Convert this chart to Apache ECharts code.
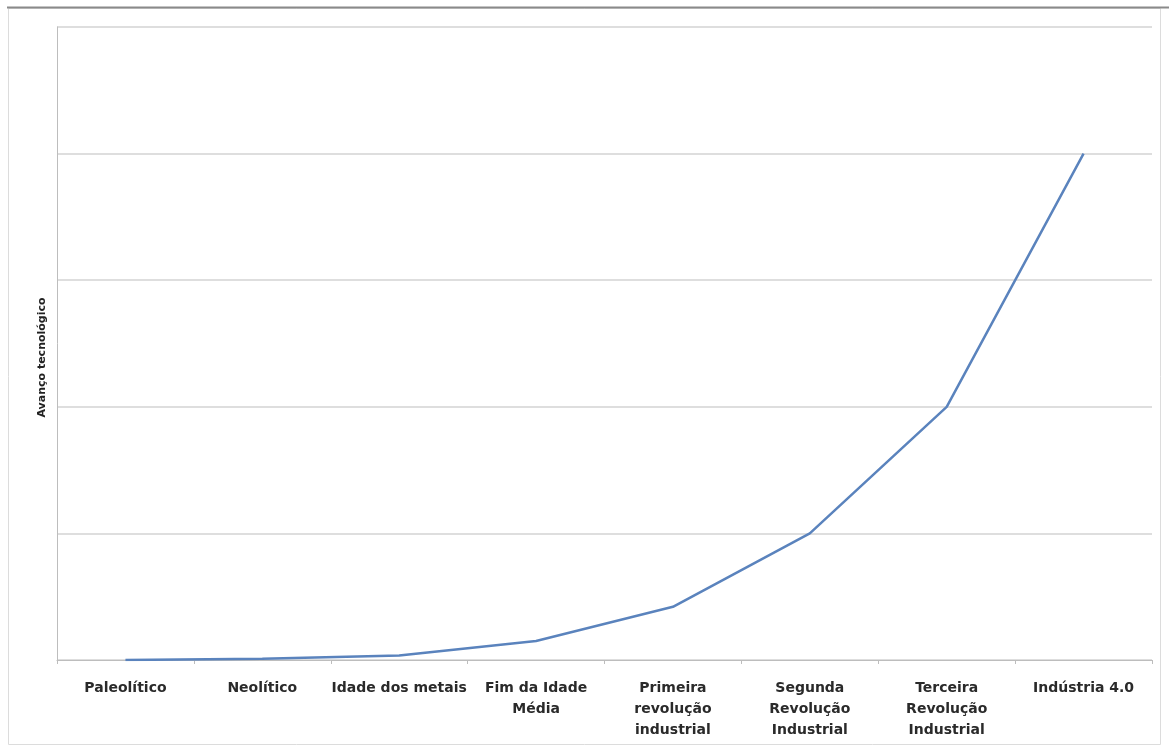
<!DOCTYPE html>
<html>
<head>
<meta charset="utf-8">
<script src="https://cdn.jsdelivr.net/npm/echarts@6/dist/echarts.min.js"></script>
<style>
html,body{margin:0;padding:0;background:#fff;}
#chart{width:1169px;height:747px;}
</style>
</head>
<body>
<div id="chart"></div>
<script>
var categories = ["Paleolítico", "Neolítico", "Idade dos metais", "Fim da Idade\nMédia", "Primeira\nrevolução\nindustrial", "Segunda\nRevolução\nIndustrial", "Terceira\nRevolução\nIndustrial", "Indústria 4.0"];
var avanco = [0, 0.01, 0.035, 0.15, 0.42, 1, 2, 4];
var yAxisName = "Avanço tecnológico";

var chart = echarts.init(document.getElementById('chart'));
chart.setOption({
  animation: false,
  backgroundColor: '#fff',
  graphic: [
    {type: 'rect', shape: {x: 8.5, y: 8.5, width: 1152, height: 736}, style: {fill: 'none', stroke: '#dcdcdc', lineWidth: 1}, z: 0},
    {type: 'line', shape: {x1: 7, y1: 7.5, x2: 1169, y2: 7.5}, style: {stroke: '#8a8a8a', lineWidth: 2}, z: 0}
  ],
  grid: {left: 57, right: 17, top: 27, bottom: 87},
  xAxis: {
    type: 'category',
    data: categories,
    boundaryGap: true,
    axisLine: {lineStyle: {color: '#bdbdbd', width: 1}},
    axisTick: {show: true, length: 4, lineStyle: {color: '#bdbdbd'}},
    axisLabel: {
      interval: 0,
      margin: 18,
      color: '#2a2a2a',
      fontFamily: 'DejaVu Sans',
      fontWeight: 'bold',
      fontSize: 14,
      lineHeight: 21
    }
  },
  yAxis: {
    type: 'value',
    min: 0,
    max: 5,
    interval: 1,
    name: yAxisName,
    nameLocation: 'middle',
    nameGap: 9,
    nameTextStyle: {color: '#222', fontFamily: 'DejaVu Sans', fontWeight: 'bold', fontSize: 11, padding: [0, 28, 0, 0]},
    axisLine: {show: true, lineStyle: {color: '#bdbdbd'}},
    axisTick: {show: false},
    axisLabel: {show: false},
    splitLine: {lineStyle: {color: '#d3d3d3', width: 1.5}}
  },
  series: [{
    type: 'line',
    data: avanco,
    showSymbol: false,
    symbol: 'none',
    lineStyle: {color: '#5a83bd', width: 2.5},
    z: 3
  }]
});
</script>
</body>
</html>
